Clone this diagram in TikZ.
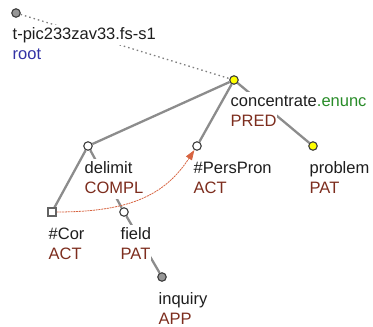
\documentclass[tikz,border=0pt]{standalone}
\usepackage{fontspec}
\setmainfont{Liberation Sans}
\usepackage{xcolor}
\usetikzlibrary{arrows.meta}

\definecolor{edgegray}{RGB}{140,140,140}
\definecolor{rimgray}{RGB}{60,60,60}
\definecolor{rootgray}{RGB}{150,150,150}
\definecolor{tyellow}{RGB}{255,255,0}
\definecolor{functor}{RGB}{125,45,30}
\definecolor{rootblue}{RGB}{50,50,165}
\definecolor{enuncgreen}{RGB}{40,140,40}
\definecolor{corefred}{RGB}{215,100,65}
\definecolor{textblack}{RGB}{30,30,30}

\pgfdeclarelayer{edges}
\pgfdeclarelayer{labels}
\pgfsetlayers{edges,labels,main}

\begin{document}
\begin{tikzpicture}[
  x=1pt, y=-1pt,
  tnode/.style={circle, draw=rimgray, line width=1.1pt, minimum size=8.5pt, inner sep=0pt, fill=white},
  cornode/.style={rectangle, draw=rimgray!80, line width=1.1pt, minimum size=8pt, inner sep=0pt, fill=white},
  lemma/.style={anchor=base west, fill=white, inner xsep=0.5pt, inner ysep=0pt, text height=14.5pt, text depth=6pt,
    text=textblack, font=\fontsize{16.5}{20}\selectfont},
  func/.style={lemma, text=functor},
  edge/.style={draw=edgegray, line width=2.3pt},
  rootedge/.style={draw=edgegray!90!black, line width=1.3pt, dash pattern=on 1.5pt off 3pt},
  coref/.style={draw=corefred, line width=0.8pt, dash pattern=on 2pt off 0.8pt, -{Triangle[length=10pt, width=7pt]}}
]
\useasboundingbox (0,0) rectangle (373,327);

% tree nodes
\node[tnode, fill=rootgray] (root) at (16,13) {};
\node[tnode, fill=tyellow] (concentrate) at (234,80) {};
\node[tnode] (delimit) at (88,146) {};
\node[tnode] (perspron) at (197,146) {};
\node[tnode, fill=tyellow] (problem) at (313,146) {};
\node[cornode] (cor) at (52,212) {};
\node[tnode] (field) at (124,212) {};
\node[tnode, fill=rootgray] (inquiry) at (162,277) {};

% edges
\begin{pgfonlayer}{edges}
\draw[rootedge] (root) -- (concentrate);
\draw[edge] (concentrate) -- (delimit);
\draw[edge] (concentrate) -- (perspron);
\draw[edge] (concentrate) -- (problem);
\draw[edge] (delimit) -- (cor);
\draw[edge] (delimit) -- (field);
\draw[edge] (field) -- (inquiry);
\end{pgfonlayer}

% labels
\begin{pgfonlayer}{labels}
\node[lemma] (root-l) at ([shift={(-4,26)}]root) {t-pic233zav33.fs-s1};
\node[lemma, text=rootblue] (root-f) at ([shift={(-4,46)}]root) {root};
\node[lemma] (concentrate-l) at ([shift={(-4,26)}]concentrate) {concentrate\textcolor{enuncgreen}{.enunc}};
\node[func] (concentrate-f) at ([shift={(-4,46)}]concentrate) {PRED};
\node[lemma] (delimit-l) at ([shift={(-4,27)}]delimit) {delimit};
\node[func] (delimit-f) at ([shift={(-4,47)}]delimit) {COMPL};
\node[lemma] (perspron-l) at ([shift={(-4,27)}]perspron) {\#PersPron};
\node[func] (perspron-f) at ([shift={(-4,47)}]perspron) {ACT};
\node[lemma] (problem-l) at ([shift={(-4,27)}]problem) {problem};
\node[func] (problem-f) at ([shift={(-4,47)}]problem) {PAT};
\node[lemma] (cor-l) at ([shift={(-4,27)}]cor) {\#Cor};
\node[func] (cor-f) at ([shift={(-4,47)}]cor) {ACT};
\node[lemma] (field-l) at ([shift={(-4,27)}]field) {field};
\node[func] (field-f) at ([shift={(-4,47)}]field) {PAT};
\node[lemma] (inquiry-l) at ([shift={(-4,27)}]inquiry) {inquiry};
\node[func] (inquiry-f) at ([shift={(-4,47)}]inquiry) {APP};

% coreference
\draw[coref] (cor) .. controls (130,212) and (165,195) .. (perspron);
\end{pgfonlayer}
\end{tikzpicture}
\end{document}
